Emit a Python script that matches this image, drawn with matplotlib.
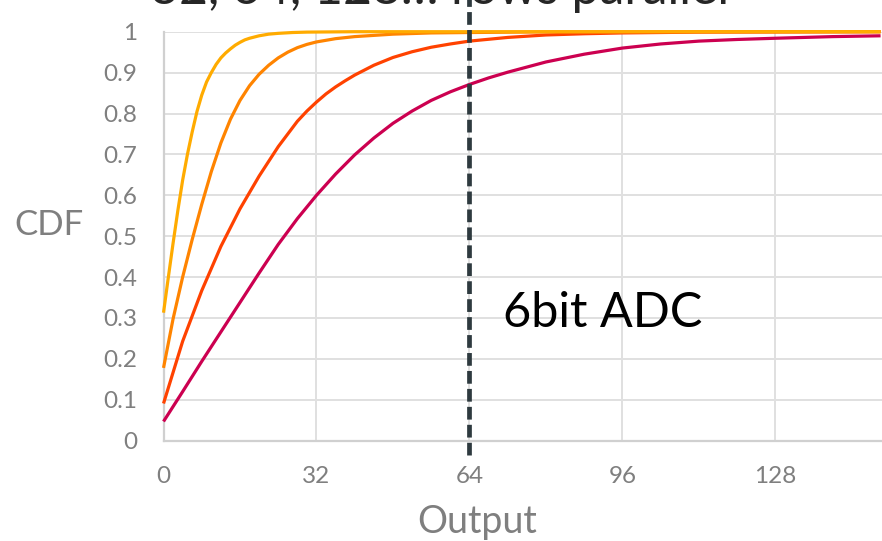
import matplotlib
matplotlib.use("Agg")
import matplotlib.pyplot as plt

plt.rcParams["font.family"] = ["Lato", "DejaVu Sans"]

# curve data (output value, CDF)
x_y = [0, 1, 2, 3, 4, 5, 6, 7, 8, 9, 10, 11, 12, 13, 14, 15, 16, 17, 18, 19, 20,
       22, 24, 27, 30, 40, 150]
cdf_y = [0.313, 0.399, 0.483, 0.563, 0.637, 0.700, 0.755, 0.805, 0.845, 0.877,
         0.900, 0.920, 0.936, 0.948, 0.958, 0.967, 0.974, 0.980, 0.984, 0.987,
         0.990, 0.994, 0.996, 0.998, 0.999, 1.0, 1.0]

x_o = [0, 2, 4, 6, 8, 10, 12, 14, 16, 18, 20, 22, 24, 26, 28, 30, 32, 36, 40, 48,
       56, 64, 80, 150]
cdf_o = [0.178, 0.298, 0.400, 0.492, 0.578, 0.658, 0.728, 0.786, 0.832, 0.868,
         0.896, 0.918, 0.936, 0.950, 0.961, 0.969, 0.975, 0.983, 0.988, 0.994,
         0.997, 0.998, 0.9995, 1.0]

x_r = [0, 4, 8, 12, 16, 20, 24, 28, 30, 32, 34, 36, 38, 40, 44, 48, 52, 56, 60,
       64, 72, 80, 88, 96, 112, 150]
cdf_r = [0.091, 0.243, 0.367, 0.475, 0.567, 0.647, 0.719, 0.781, 0.806, 0.828,
         0.848, 0.865, 0.880, 0.894, 0.918, 0.937, 0.951, 0.962, 0.970, 0.977,
         0.986, 0.992, 0.995, 0.997, 0.999, 1.0]

x_c = [0, 4, 8, 12, 16, 20, 24, 28, 32, 36, 40, 44, 48, 52, 56, 60, 64, 68, 72,
       80, 88, 96, 104, 112, 120, 128, 140, 150]
cdf_c = [0.047, 0.120, 0.194, 0.266, 0.338, 0.410, 0.480, 0.543, 0.600, 0.652,
         0.699, 0.740, 0.776, 0.806, 0.832, 0.853, 0.871, 0.887, 0.901, 0.926,
         0.945, 0.960, 0.970, 0.977, 0.981, 0.984, 0.988, 0.990]

x_ticks = [0, 32, 64, 96, 128]
y_ticks = [0, 0.1, 0.2, 0.3, 0.4, 0.5, 0.6, 0.7, 0.8, 0.9, 1]
y_labels = ["0", "0.1", "0.2", "0.3", "0.4", "0.5", "0.6", "0.7", "0.8", "0.9", "1"]
adc_limit = 64

gray = "#7f7f7f"

fig = plt.figure(figsize=(8.82, 5.41), dpi=100)
ax = fig.add_axes([0.1854, 0.1854, 0.8146, 0.756])

series = [
    (x_c, cdf_c, "#cc0050"),
    (x_r, cdf_r, "#ff4200"),
    (x_o, cdf_o, "#ff8400"),
    (x_y, cdf_y, "#ffab00"),
]
for xs, ys, col in series:
    ax.plot(xs, ys, color=col, lw=2.3, clip_on=False, zorder=3,
            solid_capstyle="butt", solid_joinstyle="round")

ax.axvline(adc_limit, ymin=-0.035, ymax=1.1, color="#2e3a3f", lw=3.4,
           dashes=(2.7, 1.1), clip_on=False, zorder=4)

ax.set_xlim(0, 150.3)
ax.set_ylim(0, 1)
ax.set_xticks(x_ticks)
ax.set_yticks(y_ticks)
ax.set_yticklabels(y_labels)
ax.tick_params(length=0, labelsize=17.5, labelcolor=gray)
ax.tick_params(axis="x", pad=18)
ax.tick_params(axis="y", pad=19)
ax.grid(True, color="#e0e0e0", lw=1.4)
ax.set_axisbelow(True)
for s in ["top", "right"]:
    ax.spines[s].set_visible(False)
for s in ["left", "bottom"]:
    ax.spines[s].set_color("#d0d0d0")
    ax.spines[s].set_linewidth(1.6)

ax.set_xlabel("Output", fontsize=27, color=gray)
ax.xaxis.set_label_coords(0.436, -0.155)
ax.set_ylabel("CDF", fontsize=25, color=gray, rotation=0, va="center", ha="center")
ax.yaxis.set_label_coords(-0.16, 0.527)

ax.text(71, 0.279, "6bit ADC", fontsize=35, color="black", va="baseline", ha="left")

fig.text(150 / 882, 1 - 4 / 541, "32, 64, 128\u2026 rows parallel", fontsize=36,
         color="#262626", va="baseline", ha="left")

fig.savefig("out.png", dpi=100)
